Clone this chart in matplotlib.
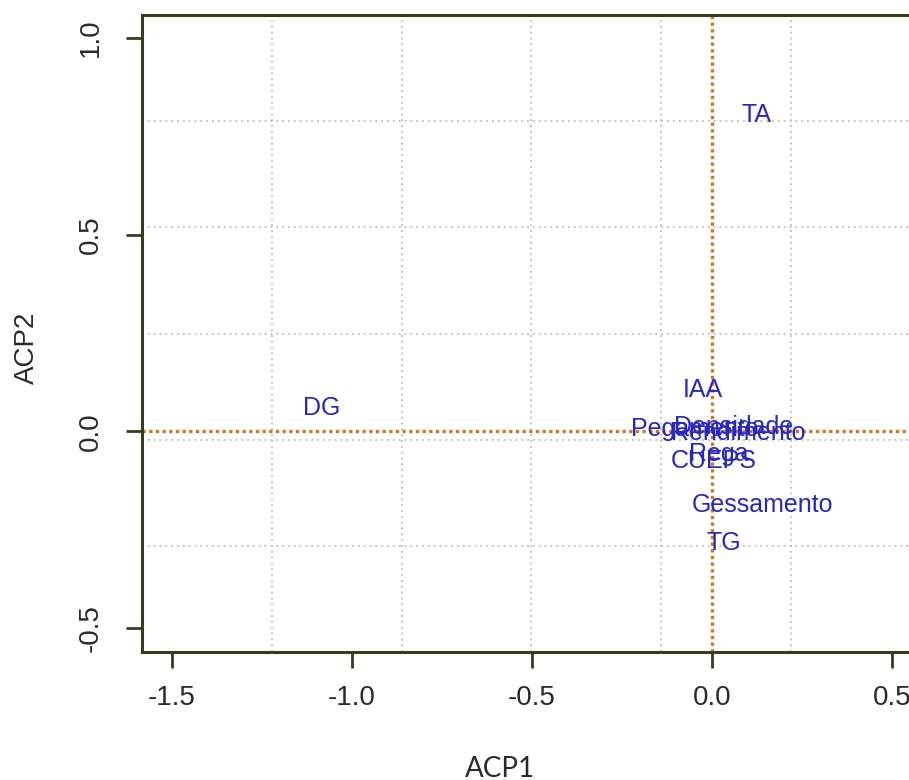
import matplotlib
matplotlib.use("Agg")
import matplotlib.pyplot as plt
import numpy as np

# Data
labels = ["TA", "IAA", "DG", "Pegamento", "Densidade", "Rendimento",
          "Rega", "CUEPS", "Gessamento", "TG"]
acp1 = [0.125, -0.025, -1.083, -0.047, 0.060, 0.072, 0.020, 0.005, 0.139, 0.033]
acp2 = [0.805, 0.106, 0.060, 0.007, 0.012, -0.004, -0.058, -0.075, -0.187, -0.283]

xticks = [-1.5, -1.0, -0.5, 0.0, 0.5]
xticklabels = ["-1.5", "-1.0", "-0.5", "0.0", "0.5"]
yticks = [-0.5, 0.0, 0.5, 1.0]
yticklabels = ["-0.5", "0.0", "0.5", "1.0"]
xlim = (-1.5826, 0.5798)
ylim = (-0.561, 1.059)

W, H = 909, 780
fig = plt.figure(figsize=(W / 100, H / 100), dpi=100)
fig.patch.set_facecolor("white")

left_px, right_px, top_px, bottom_px = 142.2, 920.7, 14.75, 652.25
ax = fig.add_axes([left_px / W, (H - bottom_px) / H,
                   (right_px - left_px) / W, (bottom_px - top_px) / H])
ax.set_xlim(*xlim)
ax.set_ylim(*ylim)

frame_col = "#3a3a1c"
for s in ax.spines.values():
    s.set_color(frame_col)
    s.set_linewidth(2.2)

# grid (R grid(nx=6, ny=6))
for gx in np.linspace(xlim[0], xlim[1], 7)[1:-1]:
    ax.axvline(gx, color="#c4c4c4", lw=1.4, ls=(0, (1, 2)), zorder=1)
for gy in np.linspace(ylim[0], ylim[1], 7)[1:-1]:
    ax.axhline(gy, color="#c4c4c4", lw=1.4, ls=(0, (1, 2)), zorder=1)

# reference lines
ax.axhline(0, color="#c97c25", lw=2.4, ls=(0, (1, 1)), zorder=2)
ax.axvline(0, color="#c97c25", lw=2.4, ls=(0, (1, 1)), zorder=2)

for lab, x, y in zip(labels, acp1, acp2):
    ax.text(x, y, lab, color="#2626c4", fontsize=18, ha="center", va="center",
            family="Liberation Sans", zorder=3)

ax.set_xticks(xticks)
ax.set_xticklabels(xticklabels)
ax.set_yticks(yticks)
ax.set_yticklabels(yticklabels, rotation=90, va="center")
ax.tick_params(axis="both", direction="out", length=11.5, width=2,
               color=frame_col, labelsize=20, labelcolor="#2a2a2a")
ax.tick_params(axis="x", pad=12)
ax.tick_params(axis="y", pad=16)
for t in ax.get_xticklabels() + ax.get_yticklabels():
    t.set_family("Liberation Sans")

fig.text(500 / W, 1 - 769 / H, "ACP1", ha="center", va="center",
         fontsize=20, family="Lato", color="#2a2a2a")
fig.text(27 / W, 1 - 348 / H, "ACP2", ha="center", va="center",
         fontsize=20, family="Liberation Sans", color="#2a2a2a", rotation=90)

fig.savefig("out.png", dpi=100, facecolor="white")
